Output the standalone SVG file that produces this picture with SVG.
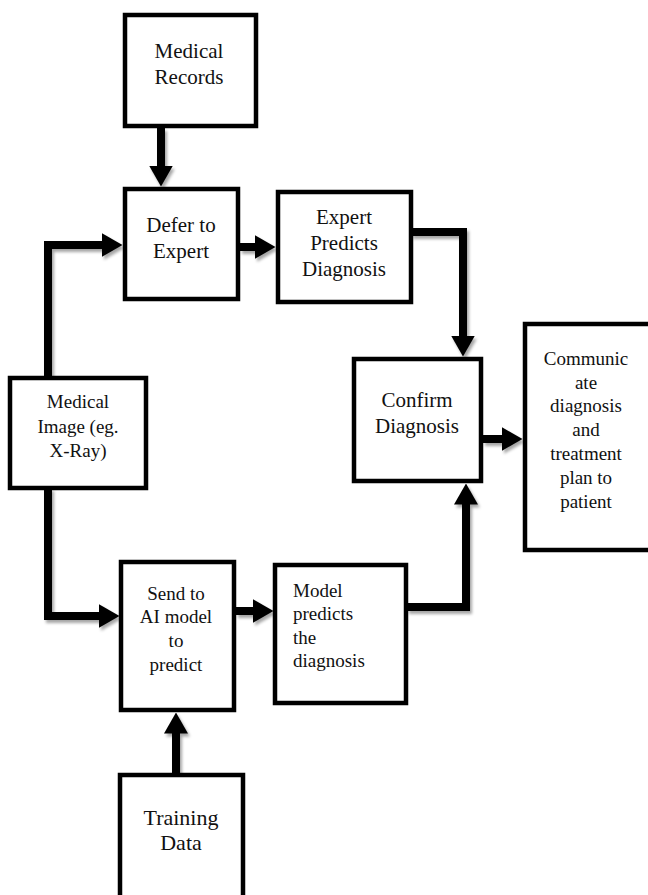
<svg xmlns="http://www.w3.org/2000/svg" width="648" height="895" viewBox="0 0 648 895">
  <style>
    .box { fill: #ffffff; stroke: #000000; stroke-width: 4.5; }
    .big { font-family: "Liberation Serif", "Times New Roman", serif; font-size: 21px; fill: #111111; text-anchor: middle; }
    .small { font-family: "Liberation Serif", "Times New Roman", serif; font-size: 19px; fill: #111111; text-anchor: middle; }
    .left { text-anchor: start; }
    .conn { fill: none; stroke: #000000; stroke-width: 8; stroke-linejoin: miter; stroke-linecap: butt; }
  </style>
  <defs>
    <marker id="arrow" markerUnits="userSpaceOnUse" markerWidth="21" markerHeight="24" viewBox="0 0 21 24" refX="0.5" refY="12" orient="auto">
      <path d="M0,0 L21,12 L0,24 Z" fill="#000000"/>
    </marker>
    <filter id="shadow" x="-20%" y="-20%" width="140%" height="140%">
      <feDropShadow dx="2" dy="3" stdDeviation="1.5" flood-color="#000000" flood-opacity="0.35"/>
    </filter>
  </defs>
  <rect x="0" y="0" width="648" height="895" fill="#ffffff"/>

  <g id="connectors" filter="url(#shadow)">
    <path class="conn" d="M161,128 V166" marker-end="url(#arrow)"/>
    <path class="conn" d="M240,247 H255" marker-end="url(#arrow)"/>
    <path class="conn" d="M48,378 V245 H102" marker-end="url(#arrow)"/>
    <path class="conn" d="M411,232 H463 V336" marker-end="url(#arrow)"/>
    <path class="conn" d="M483,439 H502" marker-end="url(#arrow)"/>
    <path class="conn" d="M48,488 V616 H99" marker-end="url(#arrow)"/>
    <path class="conn" d="M236,611 H253" marker-end="url(#arrow)"/>
    <path class="conn" d="M176,773 V733" marker-end="url(#arrow)"/>
    <path class="conn" d="M407,607 H466 V504" marker-end="url(#arrow)"/>
  </g>

  <g id="medical-records">
    <rect class="box" x="125" y="15" width="131" height="111"/>
    <text class="big" x="189" y="58">Medical</text>
    <text class="big" x="189" y="84">Records</text>
  </g>

  <g id="defer-to-expert">
    <rect class="box" x="125" y="189" width="113" height="110"/>
    <text class="big" x="181" y="232">Defer to</text>
    <text class="big" x="181" y="258">Expert</text>
  </g>

  <g id="expert-predicts">
    <rect class="box" x="278" y="192" width="133" height="110"/>
    <text class="big" x="344" y="224">Expert</text>
    <text class="big" x="344" y="250">Predicts</text>
    <text class="big" x="344" y="276">Diagnosis</text>
  </g>

  <g id="medical-image">
    <rect class="box" x="10" y="378" width="136" height="110"/>
    <text class="small" x="78" y="408">Medical</text>
    <text class="small" x="78" y="433">Image (eg.</text>
    <text class="small" x="78" y="457">X-Ray)</text>
  </g>

  <g id="confirm-diagnosis">
    <rect class="box" x="354" y="359" width="127" height="122"/>
    <text class="big" x="417" y="407">Confirm</text>
    <text class="big" x="417" y="433">Diagnosis</text>
  </g>

  <g id="communicate">
    <rect class="box" x="525" y="324" width="130" height="226"/>
    <text class="small" x="586" y="365">Communic</text>
    <text class="small" x="586" y="389">ate</text>
    <text class="small" x="586" y="412">diagnosis</text>
    <text class="small" x="586" y="436">and</text>
    <text class="small" x="586" y="460">treatment</text>
    <text class="small" x="586" y="484">plan to</text>
    <text class="small" x="586" y="508">patient</text>
  </g>

  <g id="send-to-ai">
    <rect class="box" x="121" y="562" width="113" height="148"/>
    <text class="small" x="176" y="600">Send to</text>
    <text class="small" x="176" y="623">AI model</text>
    <text class="small" x="176" y="647">to</text>
    <text class="small" x="176" y="671">predict</text>
  </g>

  <g id="model-predicts">
    <rect class="box" x="275" y="565" width="131" height="138"/>
    <text class="small left" x="293" y="597">Model</text>
    <text class="small left" x="293" y="620">predicts</text>
    <text class="small left" x="293" y="644">the</text>
    <text class="small left" x="293" y="667">diagnosis</text>
  </g>

  <g id="training-data">
    <rect class="box" x="120" y="775" width="123" height="130"/>
    <text class="big" x="181" y="825" style="font-size:22px">Training</text>
    <text class="big" x="181" y="850" style="font-size:22px">Data</text>
  </g>
</svg>
